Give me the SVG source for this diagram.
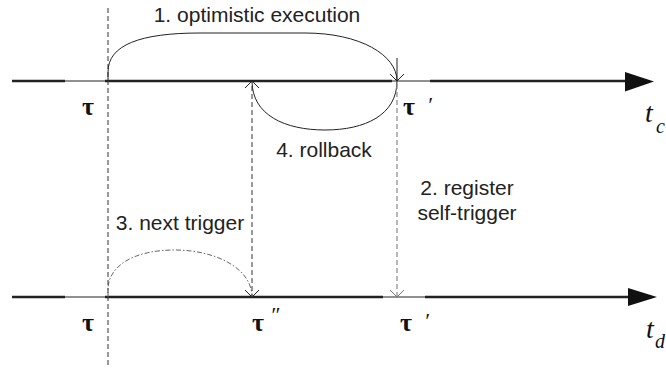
<svg xmlns="http://www.w3.org/2000/svg" width="666" height="368" viewBox="0 0 666 368">
<style>
.thick{stroke:#222;stroke-width:2.6;fill:none}
.thin{stroke:#222;stroke-width:1;fill:none}
.dash{stroke:#333;stroke-width:1;stroke-dasharray:5,3;fill:none}
.gdash{stroke:#888;stroke-width:1.2;stroke-dasharray:5,3;fill:none}
.arc{stroke:#222;stroke-width:1;fill:none}
.dd{stroke:#555;stroke-width:0.9;stroke-dasharray:5,2,1.5,2;fill:none}
.lbl{font-family:"Liberation Sans",Arial,sans-serif;font-size:21px;fill:#222}
.tau{font-family:"Liberation Serif","Times New Roman",serif;font-weight:bold;font-size:26px;fill:#111}
.pr{font-family:"Liberation Serif","Times New Roman",serif;font-style:italic;font-size:22px;fill:#111}
.t{font-family:"Liberation Serif","Times New Roman",serif;font-style:italic;font-size:28px;fill:#111}
.sub{font-family:"Liberation Serif","Times New Roman",serif;font-style:italic;font-size:20px;fill:#111}
</style>
<defs>
<marker id="open" viewBox="0 0 7 14" refX="7" refY="7" markerWidth="7" markerHeight="14" orient="auto" markerUnits="userSpaceOnUse"><path d="M0,0 L7,7 L0,14" fill="none" stroke="#222" stroke-width="1"/></marker>
<marker id="openg" viewBox="0 0 7 14" refX="7" refY="7" markerWidth="7" markerHeight="14" orient="auto" markerUnits="userSpaceOnUse"><path d="M0,0 L7,7 L0,14" fill="none" stroke="#777" stroke-width="1"/></marker>
</defs>
<g id="axis-c">
<path class="thick" d="M12,81 H65 M105,81 H392 M430,81 H626"/>
<path class="thin" d="M65,81 H108 M392,81 H430"/>
<polygon points="625,72 654,81.5 625,91.5" fill="#111"/>
<text class="t" x="645" y="122">t</text><text class="sub" x="656" y="133">c</text>
</g>
<g id="axis-d">
<path class="thick" d="M12,297 H65 M105,297 H383 M425,297 H628"/>
<path class="thin" d="M65,297 H108 M383,297 H425"/>
<polygon points="628,288 657,297 628,306" fill="#111"/>
<text class="t" x="646" y="338">t</text><text class="sub" x="655" y="348">d</text>
</g>
<g id="labels-tau">
<text class="tau" x="82" y="115">τ</text>
<text class="tau" x="403" y="115">τ</text><text class="pr" x="427" y="112">′</text>
<text class="tau" x="82" y="331">τ</text>
<text class="tau" x="252" y="331">τ</text><text class="pr" x="270" y="322">″</text>
<text class="tau" x="400" y="331">τ</text><text class="pr" x="424" y="328">′</text>
</g>
<g id="connectors">
<path class="dash" d="M108,8 V368"/>
<path class="arc" d="M397,58 V81"/>
<path class="arc" d="M108,81 V72 C108,45 140,33 200,33 H305 C360,33 397,55 397,81" marker-end="url(#open)"/>
<path class="arc" d="M397,81 C397,115 365,130 325,130 C285,130 252,115 252,81" marker-end="url(#open)"/>
<path class="dash" d="M252,86 V297" marker-end="url(#open)"/>
<path class="gdash" d="M397,84 V297" marker-end="url(#openg)"/>
<path class="dd" d="M108,297 V290 C108,265 135,250 175,250 C215,250 252,268 252,297"/>
</g>
<g id="texts">
<text class="lbl" x="257" y="22" text-anchor="middle">1. optimistic execution</text>
<text class="lbl" x="324" y="157" text-anchor="middle">4. rollback</text>
<text class="lbl" x="467" y="195" text-anchor="middle">2. register</text>
<text class="lbl" x="467" y="220" text-anchor="middle">self-trigger</text>
<text class="lbl" x="180" y="230" text-anchor="middle">3. next trigger</text>
</g>
</svg>
